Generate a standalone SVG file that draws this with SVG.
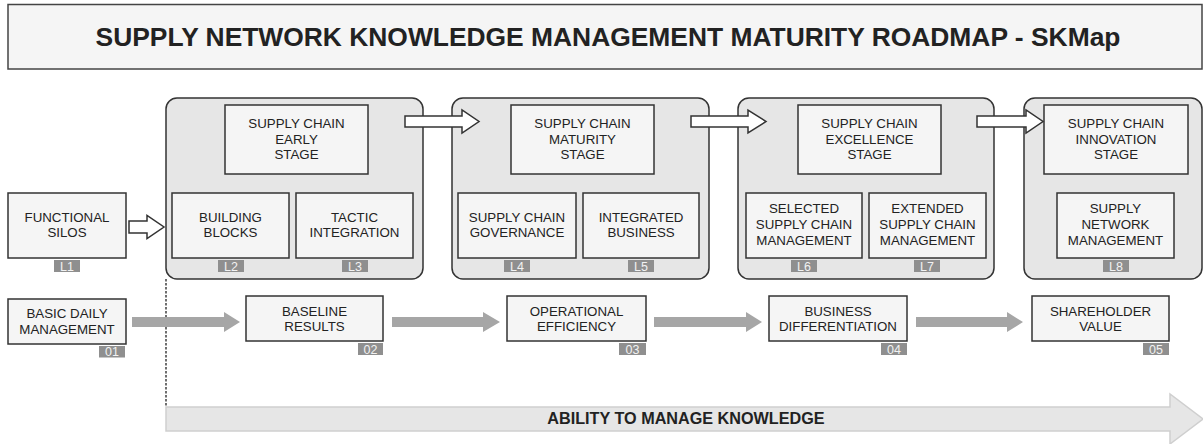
<svg xmlns="http://www.w3.org/2000/svg" width="1203" height="444" viewBox="0 0 1203 444">
<style>
.t{font-family:"Liberation Sans",Arial,sans-serif;font-size:13.3px;fill:#222;text-anchor:middle}
.box{fill:#f5f5f5;stroke:#333;stroke-width:1.5}
.stage{fill:#e6e6e6;stroke:#333;stroke-width:1.5}
.lab{fill:#8f8f8f}
.lt{font-family:"Liberation Sans",Arial,sans-serif;font-size:12.5px;fill:#f2f2f2;text-anchor:middle}
.hol{fill:#fff;stroke:#333;stroke-width:1.5;stroke-linejoin:miter}
.flow{fill:#a6a6a6}
</style>
<rect width="1203" height="444" fill="#fff"/>
<g id="title">
<rect x="8" y="4.5" width="1194" height="64.5" fill="#f5f5f5" stroke="#444" stroke-width="1.5"/>
<text x="608" y="46" style="font-family:'Liberation Sans',Arial,sans-serif;font-size:26.4px;font-weight:bold;fill:#222;text-anchor:middle">SUPPLY NETWORK KNOWLEDGE MANAGEMENT MATURITY ROADMAP - SKMap</text>
</g>
<g id="ability">
<polygon points="166,407 1170,407 1170,394 1203,419 1170,444 1170,431 166,431" fill="#e6e6e6" stroke="#cfcfcf" stroke-width="1.5"/>
<text x="686" y="424" style="font-family:'Liberation Sans',Arial,sans-serif;font-size:16.2px;font-weight:bold;fill:#222;text-anchor:middle">ABILITY TO MANAGE KNOWLEDGE</text>
</g>
<g id="stage1">
<rect class="stage" x="166" y="98" width="257" height="181" rx="11"/>
<rect class="box" x="225" y="105" width="143" height="69"/>
<text class="t" x="296.5" y="128.3">SUPPLY CHAIN</text>
<text class="t" x="296.5" y="143.7">EARLY</text>
<text class="t" x="296.5" y="159">STAGE</text>
<rect class="box" x="172" y="193" width="117" height="65"/>
<text class="t" x="230.5" y="221.7">BUILDING</text>
<text class="t" x="230.5" y="237.3">BLOCKS</text>
<rect class="box" x="296" y="193" width="117" height="65"/>
<text class="t" x="354.5" y="221.7">TACTIC</text>
<text class="t" x="354.5" y="237.3">INTEGRATION</text>
<rect class="lab" x="218" y="260" width="26" height="12"/><text class="lt" x="231" y="270.5">L2</text>
<rect class="lab" x="342" y="260" width="26" height="12"/><text class="lt" x="355" y="270.5">L3</text>
</g>
<g id="stage2">
<rect class="stage" x="452" y="98" width="257" height="181" rx="11"/>
<rect class="box" x="511" y="105" width="143" height="69"/>
<text class="t" x="582.5" y="128.3">SUPPLY CHAIN</text>
<text class="t" x="582.5" y="143.7">MATURITY</text>
<text class="t" x="582.5" y="159">STAGE</text>
<rect class="box" x="458" y="193" width="118" height="65"/>
<text class="t" x="517" y="221.7">SUPPLY CHAIN</text>
<text class="t" x="517" y="237.3">GOVERNANCE</text>
<rect class="box" x="583" y="193" width="116" height="65"/>
<text class="t" x="641" y="221.7">INTEGRATED</text>
<text class="t" x="641" y="237.3">BUSINESS</text>
<rect class="lab" x="504" y="260" width="26" height="12"/><text class="lt" x="517" y="270.5">L4</text>
<rect class="lab" x="628" y="260" width="26" height="12"/><text class="lt" x="641" y="270.5">L5</text>
</g>
<g id="stage3">
<rect class="stage" x="738" y="98" width="256" height="181" rx="11"/>
<rect class="box" x="798" y="105" width="143" height="69"/>
<text class="t" x="869.5" y="128.3">SUPPLY CHAIN</text>
<text class="t" x="869.5" y="143.7">EXCELLENCE</text>
<text class="t" x="869.5" y="159">STAGE</text>
<rect class="box" x="746" y="193" width="116" height="65"/>
<text class="t" x="804" y="213.3">SELECTED</text>
<text class="t" x="804" y="229.1">SUPPLY CHAIN</text>
<text class="t" x="804" y="244.9">MANAGEMENT</text>
<rect class="box" x="869" y="193" width="117" height="65"/>
<text class="t" x="927.5" y="213.3">EXTENDED</text>
<text class="t" x="927.5" y="229.1">SUPPLY CHAIN</text>
<text class="t" x="927.5" y="244.9">MANAGEMENT</text>
<rect class="lab" x="791" y="260" width="26" height="12"/><text class="lt" x="804" y="270.5">L6</text>
<rect class="lab" x="914" y="260" width="26" height="12"/><text class="lt" x="927" y="270.5">L7</text>
</g>
<g id="stage4">
<rect class="stage" x="1024" y="98" width="178" height="181" rx="11"/>
<rect class="box" x="1044" y="105" width="144" height="69"/>
<text class="t" x="1116" y="128.3">SUPPLY CHAIN</text>
<text class="t" x="1116" y="143.7">INNOVATION</text>
<text class="t" x="1116" y="159">STAGE</text>
<rect class="box" x="1057" y="193" width="117" height="65"/>
<text class="t" x="1115.5" y="213.3">SUPPLY</text>
<text class="t" x="1115.5" y="229.1">NETWORK</text>
<text class="t" x="1115.5" y="244.9">MANAGEMENT</text>
<rect class="lab" x="1103" y="260" width="26" height="12"/><text class="lt" x="1116" y="270.5">L8</text>
</g>
<g id="functional-silos">
<rect class="box" x="8" y="193" width="118" height="65"/>
<text class="t" x="67" y="221.7">FUNCTIONAL</text>
<text class="t" x="67" y="237.3">SILOS</text>
<rect class="lab" x="54" y="260" width="26" height="12"/><text class="lt" x="67" y="270.5">L1</text>
</g>
<g id="basic-daily">
<rect class="box" x="8" y="299" width="118" height="45"/>
<text class="t" x="67" y="318.3">BASIC DAILY</text>
<text class="t" x="67" y="334.3">MANAGEMENT</text>
<rect class="lab" x="99" y="346" width="26" height="11.5"/><text class="lt" x="112" y="356.3">01</text>
</g>
<g id="baseline">
<rect class="box" x="246" y="296" width="137" height="45"/>
<text class="t" x="314.5" y="315.7">BASELINE</text>
<text class="t" x="314.5" y="331.3">RESULTS</text>
<rect class="lab" x="358" y="343" width="25" height="12"/><text class="lt" x="370.5" y="353.5">02</text>
</g>
<g id="operational">
<rect class="box" x="507" y="296" width="139" height="45"/>
<text class="t" x="576.5" y="315.7">OPERATIONAL</text>
<text class="t" x="576.5" y="331.3">EFFICIENCY</text>
<rect class="lab" x="619" y="343" width="27" height="12"/><text class="lt" x="632.5" y="353.5">03</text>
</g>
<g id="business">
<rect class="box" x="769" y="296" width="138" height="45"/>
<text class="t" x="838" y="315.7">BUSINESS</text>
<text class="t" x="838" y="331.3">DIFFERENTIATION</text>
<rect class="lab" x="881" y="343" width="26" height="12"/><text class="lt" x="894" y="353.5">04</text>
</g>
<g id="shareholder">
<rect class="box" x="1032" y="296" width="137" height="45"/>
<text class="t" x="1100.5" y="315.7">SHAREHOLDER</text>
<text class="t" x="1100.5" y="331.3">VALUE</text>
<rect class="lab" x="1143" y="343" width="26" height="12"/><text class="lt" x="1156" y="353.5">05</text>
</g>
<g id="connectors">
<line x1="166" y1="279" x2="166" y2="407" stroke="#222" stroke-width="1.3" stroke-dasharray="2.5,1.5"/>
<polygon class="hol" points="129,221 147,221 147,215.5 164,227 147,238.5 147,233 129,233"/>
<polygon class="hol" points="405,116 462,116 462,110 479,121.5 462,133 462,127 405,127"/>
<polygon class="hol" points="691,116 748,116 748,110 766,121.5 748,133 748,127 691,127"/>
<polygon class="hol" points="977,116 1026,116 1026,110 1043,121.5 1026,133 1026,127 977,127"/>
<polygon class="flow" points="132,317 224,317 224,312 240,322 224,332 224,327 132,327"/>
<polygon class="flow" points="392,317 483,317 483,312 500,322 483,332 483,327 392,327"/>
<polygon class="flow" points="654,317 746,317 746,312 762,322 746,332 746,327 654,327"/>
<polygon class="flow" points="916,317 1007,317 1007,312 1023,322 1007,332 1007,327 916,327"/>
</g>
</svg>
